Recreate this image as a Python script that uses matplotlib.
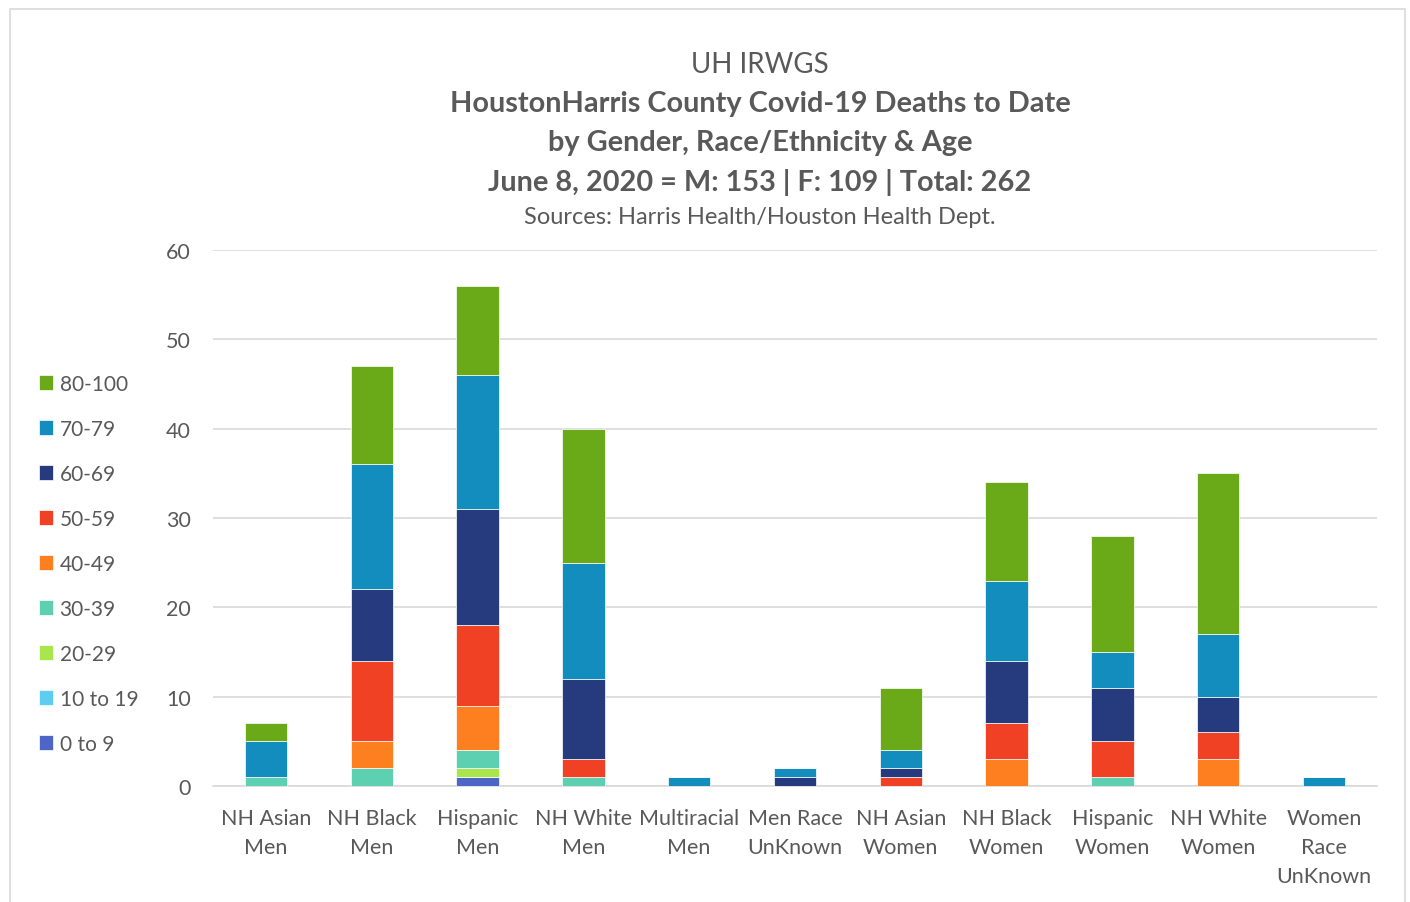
import matplotlib.pyplot as plt
from matplotlib.patches import Rectangle
import numpy as np

plt.rcParams['font.family'] = ['Lato', 'DejaVu Sans']

categories = ["NH Asian\nMen", "NH Black\nMen", "Hispanic\nMen", "NH White\nMen",
              "Multiracial\nMen", "Men Race\nUnKnown", "NH Asian\nWomen", "NH Black\nWomen",
              "Hispanic\nWomen", "NH White\nWomen", "Women\nRace\nUnKnown"]

age_groups = ["0 to 9", "10 to 19", "20-29", "30-39", "40-49", "50-59", "60-69", "70-79", "80-100"]

# deaths per age group, one value per category
age_0_9 = [0, 0, 1, 0, 0, 0, 0, 0, 0, 0, 0]
age_10_19 = [0, 0, 0, 0, 0, 0, 0, 0, 0, 0, 0]
age_20_29 = [0, 0, 1, 0, 0, 0, 0, 0, 0, 0, 0]
age_30_39 = [1, 2, 2, 1, 0, 0, 0, 0, 1, 0, 0]
age_40_49 = [0, 3, 5, 0, 0, 0, 0, 3, 0, 3, 0]
age_50_59 = [0, 9, 9, 2, 0, 0, 1, 4, 4, 3, 0]
age_60_69 = [0, 8, 13, 9, 0, 1, 1, 7, 6, 4, 0]
age_70_79 = [4, 14, 15, 13, 1, 1, 2, 9, 4, 7, 1]
age_80_100 = [2, 11, 10, 15, 0, 0, 7, 11, 13, 18, 0]

series = [age_0_9, age_10_19, age_20_29, age_30_39, age_40_49,
          age_50_59, age_60_69, age_70_79, age_80_100]
colors = ["#4e65c8", "#5fcdf2", "#a8e64c", "#5ed0b2", "#fd7f20",
          "#f04124", "#263a7e", "#128dbd", "#6aa918"]

fig = plt.figure(figsize=(14.1, 9.03), dpi=100, facecolor='white')
ax = fig.add_axes([213 / 1410, 1 - 787 / 903, (1377 - 213) / 1410, (787 - 251) / 903])

x = np.arange(len(categories))
bottom = np.zeros(len(categories))
handles = []
for vals, col, lab in zip(series, colors, age_groups):
    b = ax.bar(x, vals, 0.4, bottom=bottom, color=col, label=lab,
               edgecolor='white', linewidth=0.5, zorder=3)
    handles.append(b)
    bottom += np.array(vals)

ax.set_ylim(0, 60)
ax.set_xlim(-0.5, len(categories) - 0.5)
ax.set_yticks(range(0, 61, 10))
ax.set_xticks(x, categories)
ax.grid(axis='y', color='#d9d9d9', linewidth=1.2, zorder=0)
for s in ['top', 'right', 'left']:
    ax.spines[s].set_visible(False)
ax.spines['bottom'].set_color('#d9d9d9')
ax.spines['bottom'].set_linewidth(1.2)
ax.tick_params(axis='both', length=0, labelsize=15.5, colors='#595959')
ax.tick_params(axis='y', pad=16)
ax.tick_params(axis='x', pad=16)
for t in ax.get_xticklabels():
    t.set_linespacing(1.55)

leg = fig.legend(handles[::-1], age_groups[::-1], loc='upper left',
                 bbox_to_anchor=(20 / 1410, 1 - 356 / 903), frameon=False,
                 fontsize=15, handlelength=0.7, handleheight=0.7,
                 handletextpad=0.3, labelspacing=1.2, labelcolor='#595959')

cx = 760 / 1410
fig.text(cx, 1 - 65 / 903, "UH IRWGS", ha='center', va='center', fontsize=20, color='#595959')
fig.text(cx, 1 - 104 / 903, "HoustonHarris County Covid-19 Deaths to Date", ha='center',
         va='center', fontsize=20.8, fontweight='bold', color='#595959')
fig.text(cx, 1 - 143 / 903, "by Gender, Race/Ethnicity & Age", ha='center',
         va='center', fontsize=20.8, fontweight='bold', color='#595959')
fig.text(cx, 1 - 183 / 903, "June 8, 2020 = M: 153 | F: 109 | Total: 262", ha='center',
         va='center', fontsize=20.8, fontweight='bold', color='#595959')
fig.text(cx, 1 - 217 / 903, "Sources: Harris Health/Houston Health Dept.", ha='center',
         va='center', fontsize=17, color='#595959')

fig.patches.append(Rectangle((10 / 1410, -0.01), 1395 / 1410, 1 - 10 / 903 + 0.01,
                             transform=fig.transFigure, fill=False,
                             edgecolor='#d9d9d9', linewidth=1.2))

fig.savefig('out.png', dpi=100, facecolor='white')
